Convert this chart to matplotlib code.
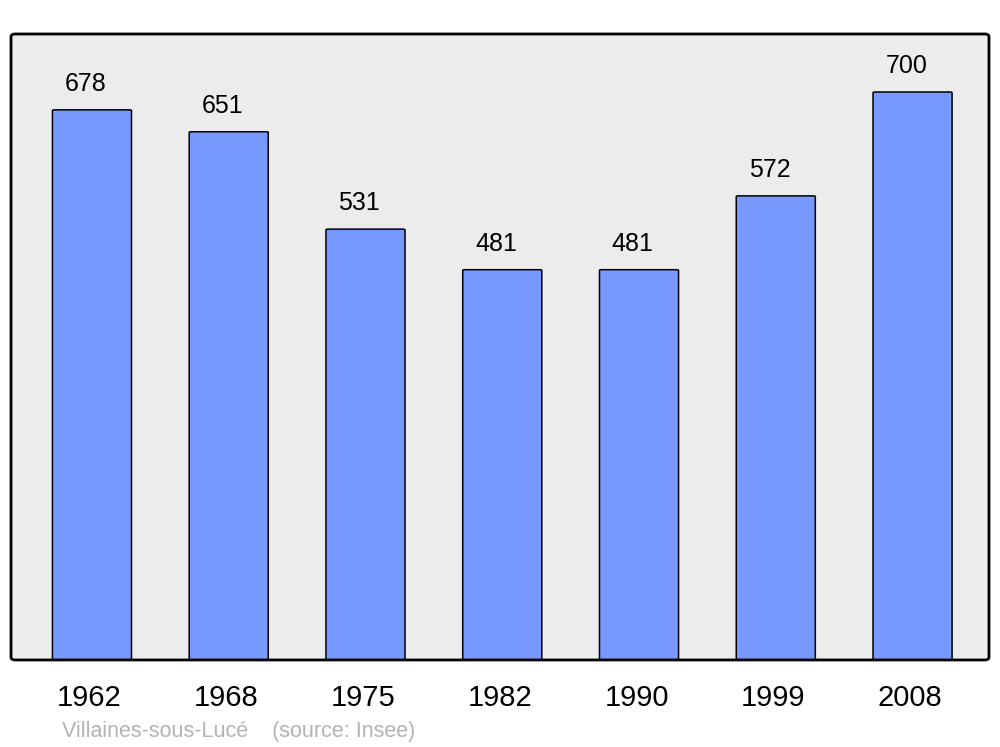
import matplotlib.pyplot as plt
import matplotlib.transforms as mtransforms
from matplotlib.patches import FancyBboxPatch
import numpy as np

plt.rcParams['font.family'] = ['Liberation Sans', 'DejaVu Sans']

years = ["1962", "1968", "1975", "1982", "1990", "1999", "2008"]
population = [678, 651, 531, 481, 481, 572, 700]

fig = plt.figure(figsize=(10, 7.47), dpi=100)
ax = fig.add_axes([0.011, 0.1165, 0.978, 0.838])
ax.set_facecolor('#ececec')

x = np.arange(len(years))
bars = ax.bar(x, population, width=0.578, color='#7799ff', edgecolor='black', linewidth=1.1)

# swap plain rectangles for slightly rounded ones
for b in bars:
    bx, by = b.get_x(), b.get_y()
    w, h = b.get_width(), b.get_height()
    b.set_visible(False)
    p = FancyBboxPatch((bx, by), w, h, boxstyle="round,pad=0,rounding_size=0.015",
                       mutation_aspect=60, facecolor='#7799ff', edgecolor='black', linewidth=1.1)
    ax.add_patch(p)

for xi, v in zip(x, population):
    ax.annotate(str(v), (xi, v), xytext=(-4.5, 18.5), textcoords='offset points',
                ha='center', va='center', fontsize=18)

ax.set_xlim(-0.592, 6.559)
ax.set_ylim(0, 771.5)
ax.set_xticks(x)
ax.set_xticklabels(years, fontsize=21)
ax.tick_params(axis='x', length=0, pad=17)
shift = mtransforms.ScaledTranslation(-2.5 / 100, 0, fig.dpi_scale_trans)
for lab in ax.get_xticklabels():
    lab.set_transform(lab.get_transform() + shift)
ax.set_yticks([])
for s in ax.spines.values():
    s.set_visible(False)

frame = FancyBboxPatch((0.011, 0.1165), 0.978, 0.838, boxstyle="round,pad=0,rounding_size=0.004",
                       transform=fig.transFigure, facecolor='none', edgecolor='black',
                       linewidth=2.0, zorder=10)
fig.patches.append(frame)

fig.text(0.062, 0.0135, "Villaines-sous-Lucé    (source: Insee)", color='#b3b3b3',
         fontsize=15.5, ha='left', va='baseline')

fig.savefig('out.png', dpi=100)
